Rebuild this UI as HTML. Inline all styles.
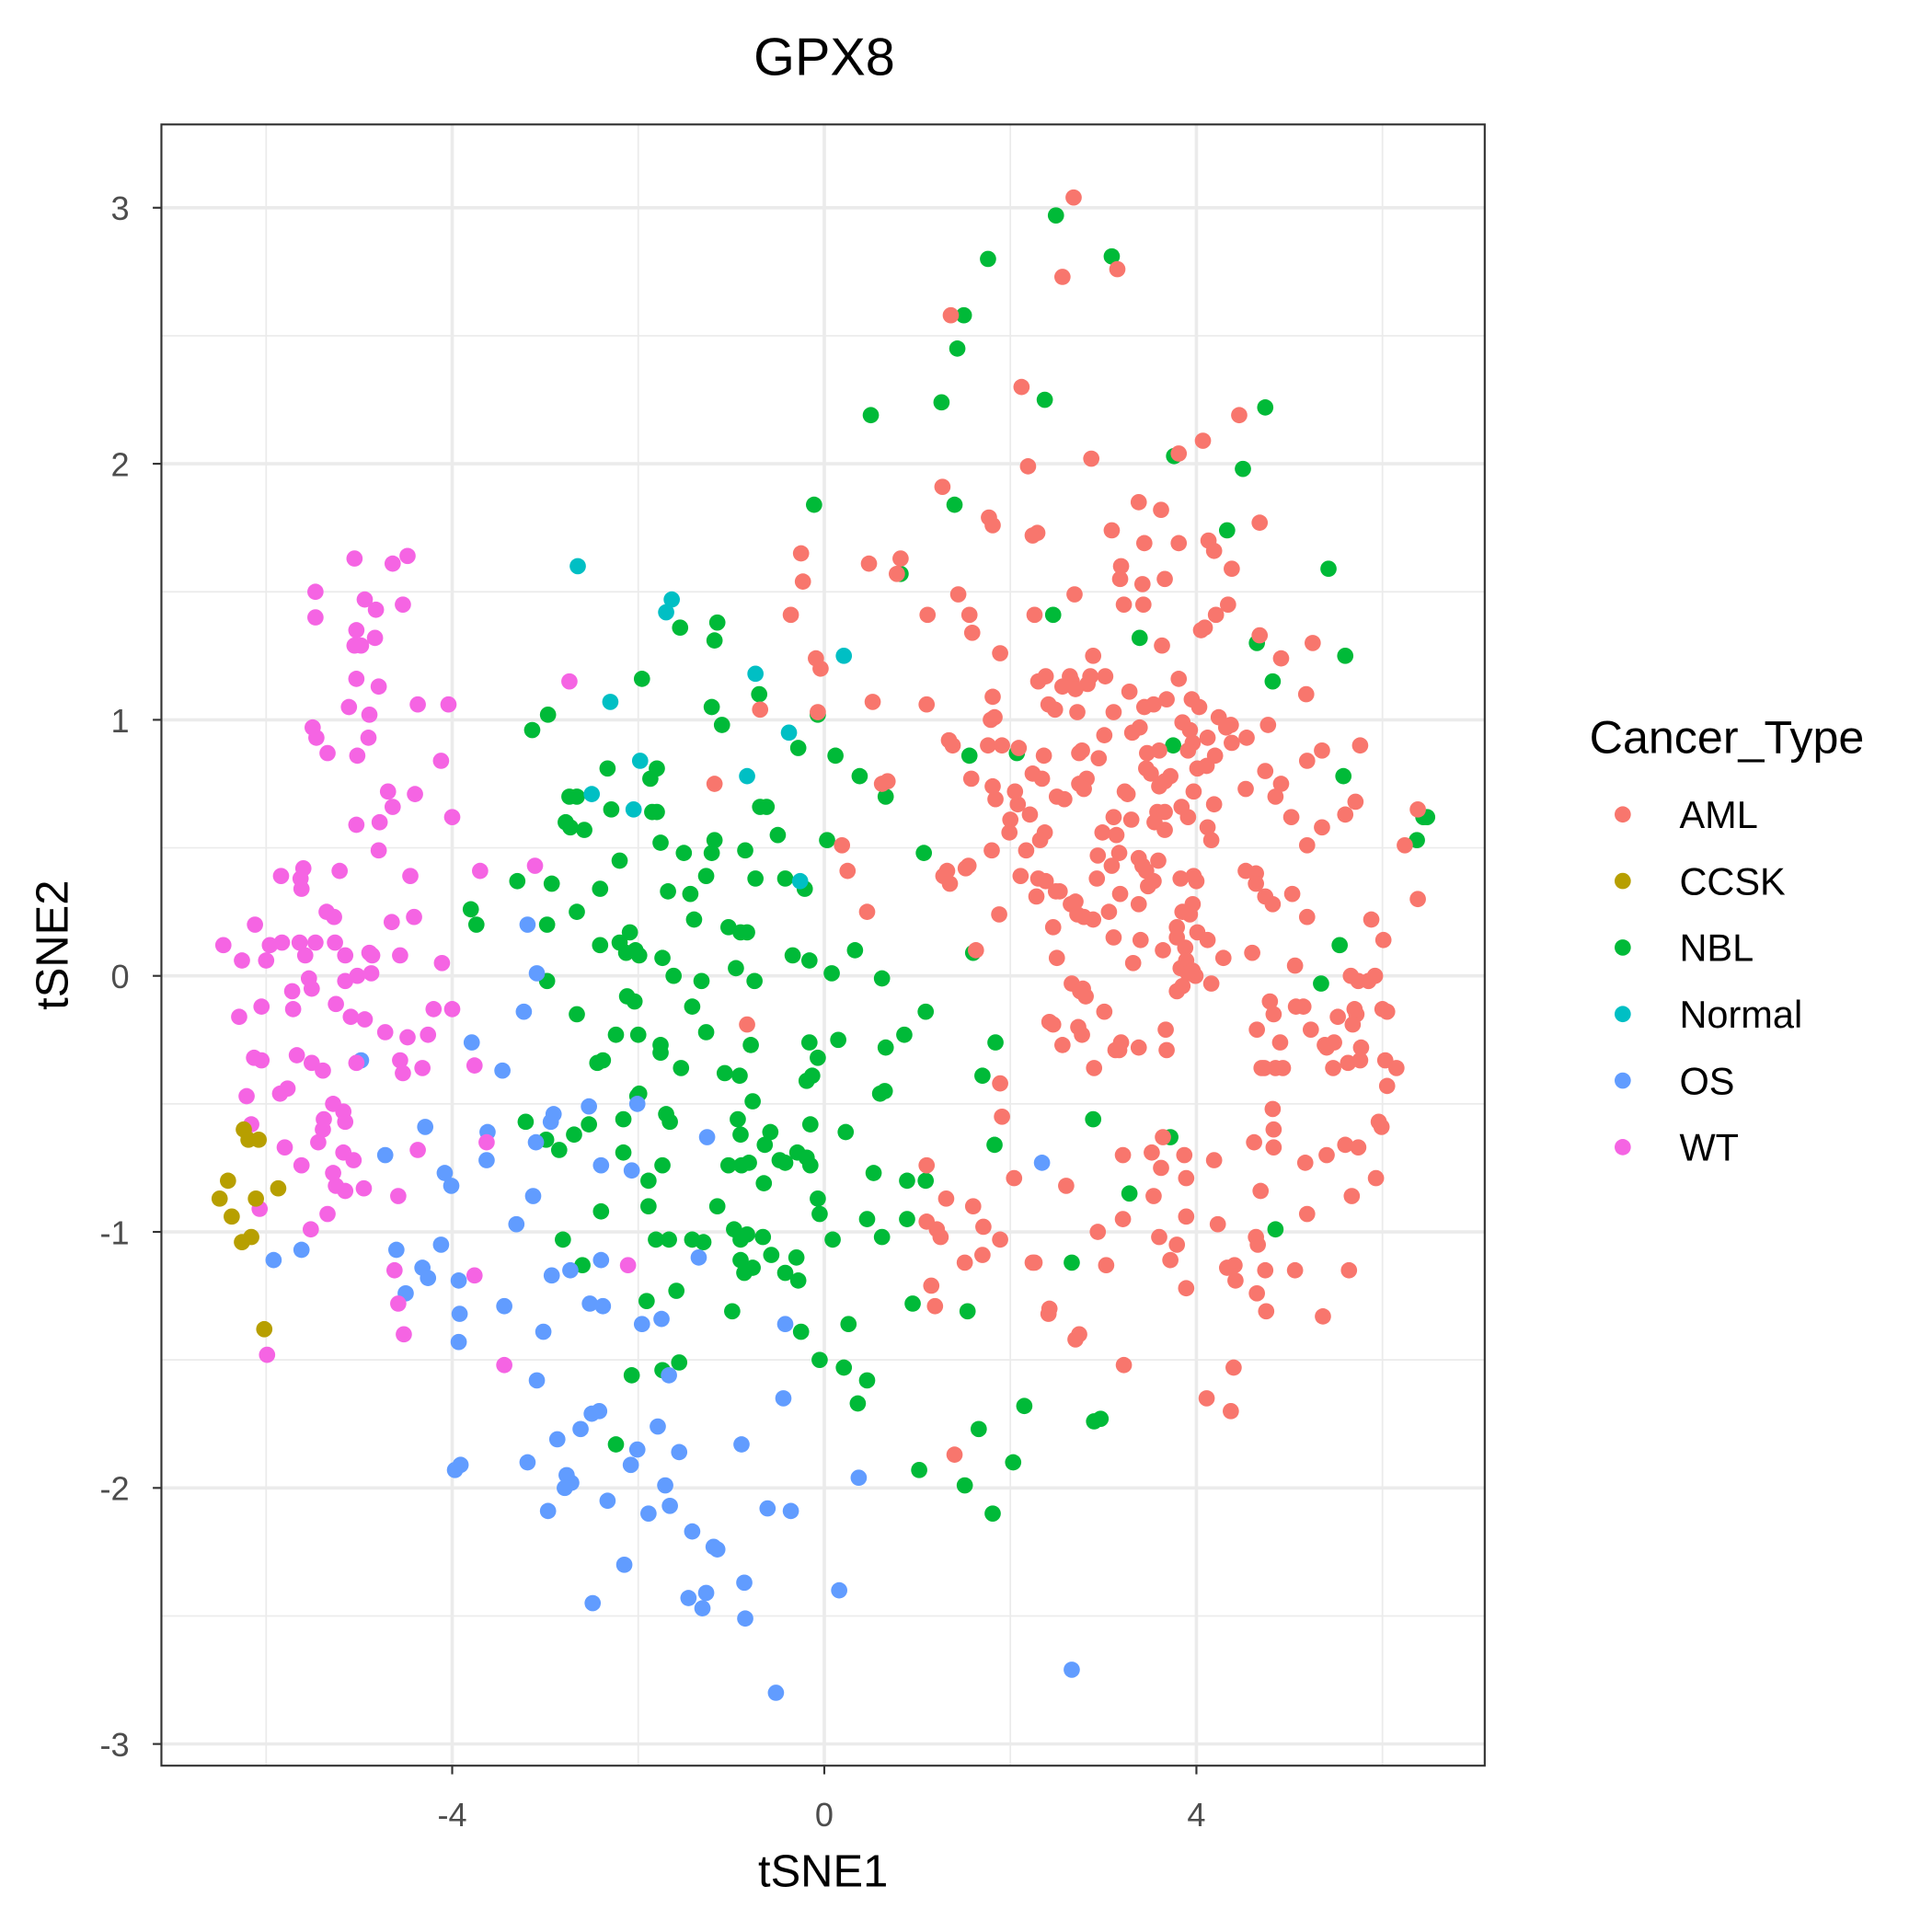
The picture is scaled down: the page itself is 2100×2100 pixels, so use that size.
<!DOCTYPE html>
<html><head><meta charset="utf-8"><style>
html,body{margin:0;padding:0;background:#fff}
svg{display:block}
text{font-family:"Liberation Sans",Arial,sans-serif}
</style></head><body>
<svg id="chart" width="2100" height="2100" viewBox="0 0 1568 1568" xmlns="http://www.w3.org/2000/svg">
<rect x="0" y="0" width="1568" height="1568" fill="#fff"/>
<g id="grid"></g>
<g id="points"></g>
<rect x="131" y="101" width="1074" height="1332" fill="none" stroke="#333" stroke-width="1.6"/>
<g id="axes"></g>
<text x="669" y="61" font-size="43" text-anchor="middle" fill="#000">GPX8</text>
<text x="668" y="1531" font-size="36.5" text-anchor="middle" fill="#000">tSNE1</text>
<text transform="translate(55,767) rotate(-90)" font-size="36.5" text-anchor="middle" fill="#000">tSNE2</text>
<g id="legend">
<text x="1290" y="611" font-size="37.5" fill="#000">Cancer_Type</text>
</g>
</svg>
<script>
const categories = ["AML","CCSK","NBL","Normal","OS","WT"];
const colors = ["#F8766D","#B79F00","#00BA38","#00BFC4","#619CFF","#F564E3"];
const xTicks = [-4,0,4];
const yTicks = [-3,-2,-1,0,1,2,3];
const xMinor = [-6,-2,2,6];
const yMinor = [-2.5,-1.5,-0.5,0.5,1.5,2.5];

const wtX = [-5.05,-4.48,-4.64,-5.47,-4.94,-4.53,-4.82,-5.47,-5.03,-4.83,-5.05,-4.98,-5.03,-4.79,-4.37,-4.04,-2.74,-5.11,-4.89,-5.50,-5.46,-4.90,-5.34,-4.12,-5.02,-4.69,-4.40,-4.64,-4.00,-5.03,-4.78,-4.79,-5.60,-5.84,-5.63,-5.21,-4.45,-3.70,-3.11,-5.62,-5.35,-5.27,-6.12,-4.65,-4.41,-6.46,-5.83,-5.96,-5.64,-5.47,-5.26,-5.15,-6.26,-6.00,-5.58,-4.89,-4.56,-4.86,-4.11,-5.54,-5.02,-5.15,-4.87,-5.51,-5.72,-5.25,-6.05,-5.71,-5.09,-6.29,-4.94,-4.72,-4.00,-4.20,-4.48,-4.26,-6.13,-6.05,-5.67,-5.51,-5.39,-4.56,-5.03,-3.76,-4.53,-4.32,-5.77,-5.85,-6.21,-5.28,-5.17,-5.15,-5.38,-5.39,-6.16,-5.44,-5.80,-5.17,-5.06,-4.37,-5.62,-5.28,-5.25,-5.15,-4.95,-4.58,-6.07,-5.34,-5.52,-3.76,-4.62,-2.11,-4.58,-4.52,-3.44,-5.99,-3.63];
const wtY = [1.63,1.64,1.61,1.50,1.47,1.45,1.43,1.40,1.35,1.32,1.29,1.29,1.16,1.13,1.06,1.06,1.15,1.05,1.02,0.97,0.93,0.93,0.87,0.84,0.86,0.72,0.71,0.66,0.62,0.59,0.60,0.49,0.42,0.39,0.38,0.41,0.39,0.41,0.43,0.34,0.25,0.23,0.20,0.21,0.23,0.12,0.13,0.12,0.13,0.13,0.13,0.08,0.06,0.06,0.08,0.09,0.08,0.08,0.05,-0.01,0.00,-0.02,0.01,-0.05,-0.06,-0.11,-0.12,-0.13,-0.16,-0.16,-0.17,-0.22,-0.13,-0.13,-0.24,-0.23,-0.32,-0.33,-0.31,-0.34,-0.37,-0.33,-0.34,-0.35,-0.38,-0.36,-0.44,-0.46,-0.47,-0.50,-0.53,-0.57,-0.56,-0.60,-0.58,-0.65,-0.67,-0.69,-0.72,-0.68,-0.74,-0.77,-0.82,-0.84,-0.83,-0.86,-0.91,-0.93,-0.99,-1.17,-1.15,-1.13,-1.28,-1.40,-1.52,-1.48,-0.65];

const ccskX = [-6.24,-6.19,-6.08,-6.41,-6.50,-6.11,-6.37,-5.87,-6.16,-6.26,-6.02];
const ccskY = [-0.60,-0.64,-0.64,-0.80,-0.87,-0.87,-0.94,-0.83,-1.02,-1.04,-1.38];

const normalX = [-2.65,-1.64,-1.70,-0.74,0.21,-2.30,-0.38,-1.98,-0.83,-2.50,-2.05,-0.26];
const normalY = [1.60,1.47,1.42,1.18,1.25,1.07,0.95,0.84,0.78,0.71,0.65,0.37];

const osX = [-3.19,-3.09,-3.23,-3.79,-3.46,-4.98,-4.29,-3.62,-2.91,-2.53,-2.94,-1.26,-3.10,-4.72,-4.08,-4.01,-3.63,-2.40,-2.07,-5.92,-5.62,-4.60,-4.12,-4.32,-4.26,-3.93,-4.50,-3.13,-3.31,-3.92,-3.44,-2.93,-2.73,-2.40,-2.52,-2.38,-1.96,-1.75,-1.35,-3.93,-3.02,-3.09,-2.01,-0.42,-1.67,-2.42,-2.50,-2.62,-2.87,-1.79,-2.01,-1.56,-0.89,-0.44,0.37,-3.19,-2.77,-2.72,-2.79,-3.91,-3.97,-2.97,-2.33,-2.08,-1.71,-1.66,-1.89,-1.42,-1.19,-1.15,-2.15,-2.49,-1.46,-1.27,-1.31,-0.86,-0.85,-0.61,-0.36,0.16,-0.52,2.66,2.34];
const osY = [0.20,0.01,-0.14,-0.26,-0.37,-0.33,-0.59,-0.61,-0.54,-0.51,-0.57,-0.63,-0.65,-0.70,-0.77,-0.82,-0.72,-0.74,-0.76,-1.11,-1.07,-1.07,-1.05,-1.14,-1.18,-1.19,-1.24,-0.86,-0.97,-1.32,-1.29,-1.17,-1.15,-1.11,-1.28,-1.29,-1.36,-1.34,-1.10,-1.43,-1.39,-1.58,-0.50,-1.36,-1.56,-1.70,-1.71,-1.77,-1.81,-1.76,-1.85,-1.86,-1.83,-1.65,-1.96,-1.90,-1.95,-1.98,-2.00,-1.91,-1.93,-2.09,-2.05,-1.91,-1.99,-2.07,-2.10,-2.17,-2.23,-2.24,-2.30,-2.45,-2.43,-2.41,-2.47,-2.37,-2.51,-2.08,-2.09,-2.40,-2.80,-2.71,-0.73];

const nblX = [2.49,1.76,3.09,1.50,1.43,1.26,2.37,0.50,4.74,3.76,4.50,1.40,-0.11,0.82,4.33,2.46,5.42,3.39,5.60,4.65,4.82,-1.55,-1.15,-1.18,-1.96,-0.70,-1.21,-1.10,-2.97,-3.14,-0.07,-0.28,0.12,1.56,2.07,0.38,0.66,3.75,-2.33,-1.80,-1.87,-2.74,-2.58,-2.66,-1.85,-1.80,-2.29,-2.78,-2.73,-1.18,-1.21,-0.85,-0.74,-0.50,-0.69,-0.62,0.03,1.07,-1.76,-1.51,-2.20,-3.30,-2.93,-2.41,-1.68,-1.44,-1.27,-0.42,-0.21,-2.66,-3.80,-3.74,-2.98,-1.40,-1.03,-0.83,-0.90,-0.34,-2.09,-2.20,-2.41,-2.03,-2.13,-1.99,-1.74,-0.95,-0.16,0.33,0.08,0.62,-1.62,-1.32,-2.98,-0.75,-2.12,-2.04,-2.66,-2.24,-1.76,-2.00,-1.42,-1.27,-1.76,-0.16,-0.07,0.15,1.09,0.86,0.66,1.84,1.70,-0.19,-0.13,-0.79,-0.91,-1.07,-0.77,-1.54,-2.44,-2.38,-1.99,-2.01,-1.70,-1.66,-2.16,-0.93,-0.90,-0.58,-0.64,-0.15,0.23,-0.42,-0.29,-0.48,-0.19,-0.15,-0.89,-1.03,-0.81,-0.65,-3.21,-2.99,-2.53,-2.85,-2.16,-1.74,-1.89,0.60,0.65,0.53,0.89,1.09,2.89,3.28,3.72,4.85,5.34,5.54,6.44,6.37,5.58,1.83,-0.07,-1.89,-1.15,-2.40,-1.81,-1.67,-1.42,-1.30,-2.81,-0.97,-0.90,-0.83,-0.66,-0.57,-0.30,-0.90,-0.77,-0.86,-1.59,-1.91,-0.99,-0.28,-0.42,-0.05,0.09,0.46,0.62,0.89,0.95,1.54,-0.25,0.26,-0.05,0.21,0.46,0.36,-2.07,-1.74,-1.56,-2.24,1.66,2.15,2.03,1.02,1.51,1.81,2.90,2.97,2.66,-2.60,-2.69,1.60,6.48];
const nblY = [2.97,2.80,2.81,2.58,2.45,2.24,2.25,2.19,2.22,2.03,1.98,1.84,1.84,1.57,1.74,1.41,1.59,1.32,1.25,1.30,1.15,1.36,1.38,1.31,1.16,1.10,1.05,0.98,1.02,0.96,1.02,0.89,0.86,0.86,0.87,0.78,0.70,0.90,0.81,0.81,0.77,0.70,0.57,0.70,0.64,0.64,0.65,0.60,0.58,0.53,0.48,0.49,0.38,0.55,0.66,0.66,0.53,0.48,0.52,0.48,0.45,0.37,0.36,0.34,0.33,0.32,0.39,0.38,0.34,0.25,0.26,0.20,0.20,0.22,0.19,0.17,0.17,0.08,0.17,0.13,0.12,0.10,0.09,0.08,0.07,0.03,0.06,0.10,0.01,-0.01,0.00,-0.02,-0.02,-0.02,-0.08,-0.10,-0.15,-0.23,-0.27,-0.23,-0.12,-0.22,-0.30,-0.26,-0.32,-0.25,-0.14,-0.23,-0.28,-0.26,-0.39,-0.41,-0.39,-0.27,-0.39,-0.38,-0.49,-0.36,-0.34,-0.33,-0.46,-0.47,-0.54,-0.57,-0.56,-0.56,-0.62,-0.61,-0.66,-0.58,-0.61,-0.73,-0.69,-0.72,-0.71,-0.74,-0.74,-0.74,-0.73,-0.81,-0.57,-0.64,-0.58,-0.68,-0.69,-0.74,-0.80,-0.46,-0.45,-0.77,-0.80,-0.80,-0.56,-0.85,-0.63,-0.99,-0.03,0.12,0.62,0.53,0.78,-0.66,-0.87,-0.90,-0.90,-0.92,-1.03,-1.03,-1.03,-1.04,-1.03,-0.99,-1.03,-1.01,-1.02,-1.09,-1.10,-1.11,-1.14,-1.16,-1.23,-1.27,-1.31,-1.19,-1.16,-0.93,-1.03,-0.95,-1.02,-0.95,-1.28,-1.31,-1.39,-1.36,-1.50,-1.53,-1.58,-1.67,-1.56,-1.54,-1.51,-1.83,-1.77,-1.68,-1.90,-1.93,-1.99,-2.10,-1.74,-1.73,-1.12,-1.13,-0.62,0.09,0.62];

const amlX = [2.68,2.56,3.15,1.36,2.12,4.46,2.19,4.07,2.87,3.81,3.38,3.62,4.68,-0.25,-0.23,-0.36,0.48,0.82,0.78,1.11,1.44,1.56,1.59,1.77,1.81,1.27,2.29,2.24,3.09,3.44,3.81,4.13,4.19,4.38,3.19,3.18,3.42,3.66,3.22,3.43,2.69,4.21,4.34,4.05,4.09,4.91,5.25,5.18,4.68,3.63,1.89,2.26,-0.09,-0.04,2.89,2.38,2.30,2.64,2.86,3.02,2.66,2.83,2.56,2.70,2.41,2.48,2.72,3.11,3.54,3.81,3.95,4.03,3.68,3.28,0.52,1.10,-0.07,-0.69,-1.18,0.68,0.62,1.81,1.79,1.76,1.91,2.09,1.34,1.38,3.44,3.85,4.24,4.32,4.37,4.12,4.20,4.54,4.77,4.38,3.93,3.96,3.01,3.39,3.31,3.60,3.47,3.91,3.51,3.66,2.77,2.74,2.36,2.34,2.74,2.82,2.58,2.79,2.95,3.46,3.72,4.01,3.60,4.11,4.74,4.91,4.85,5.76,5.35,5.19,5.71,5.60,5.02,5.19,5.35,6.24,6.38,6.38,5.88,6.01,5.85,5.92,5.74,5.66,6.00,6.05,6.03,6.15,6.05,5.99,5.93,5.63,5.47,5.23,5.40,5.38,5.72,5.68,5.52,5.15,5.06,5.19,5.03,5.07,5.48,5.77,5.70,4.82,4.74,4.64,4.53,4.64,4.60,4.79,4.83,4.90,4.85,4.93,4.73,4.65,4.70,4.82,4.83,4.83,4.62,4.69,4.64,4.66,4.74,4.65,4.75,5.19,5.17,5.06,5.40,5.60,5.74,5.64,5.67,5.36,3.89,4.40,4.11,4.37,4.41,4.33,4.19,3.89,3.89,3.60,3.54,3.64,3.62,3.67,3.38,3.68,3.19,3.17,3.01,2.73,2.56,2.42,2.90,2.77,2.78,2.81,2.50,2.65,2.70,2.72,2.53,2.93,3.09,2.89,3.18,3.38,3.14,3.30,3.55,3.58,3.66,3.91,3.42,3.59,3.83,3.38,3.46,3.54,3.97,3.96,3.85,4.00,3.93,4.01,4.12,4.29,3.79,3.88,3.89,3.83,3.91,3.79,3.85,3.64,3.40,3.11,3.32,4.16,3.99,3.96,3.79,3.48,3.66,3.84,3.97,4.12,4.16,4.19,4.53,3.17,2.99,2.94,2.37,2.17,2.32,2.21,2.00,1.99,1.80,1.55,2.38,2.49,2.11,1.35,1.32,1.52,1.28,2.08,2.05,2.24,1.84,1.81,2.50,3.23,3.11,3.26,1.58,1.83,0.19,0.25,0.46,2.46,2.79,3.06,2.28,2.30,1.88,1.63,2.66,2.75,2.46,3.13,3.21,2.60,2.94,3.21,3.22,3.03,2.74,2.70,2.41,2.42,2.24,1.89,1.71,1.60,1.31,1.21,1.25,1.10,1.15,1.19,1.70,1.51,2.04,1.89,2.26,1.40,3.72,3.79,3.87,3.52,4.23,-0.83,5.96,5.76,4.42,1.10,1.91];
const amlY = [3.04,2.73,2.76,2.58,2.30,2.19,1.99,2.09,2.02,2.04,1.85,1.82,1.77,1.65,1.54,1.41,1.61,1.63,1.57,1.41,1.49,1.41,1.34,1.79,1.76,1.91,1.73,1.72,1.74,1.69,1.69,1.70,1.66,1.59,1.60,1.55,1.53,1.55,1.45,1.45,1.49,1.41,1.45,1.35,1.36,1.24,1.30,1.10,1.33,1.29,1.26,1.41,1.24,1.20,1.25,1.17,1.15,1.17,1.17,1.17,1.15,1.14,1.13,1.12,1.06,1.04,1.03,1.03,1.06,1.16,1.08,1.05,1.08,1.11,1.07,1.06,1.03,1.04,0.75,0.76,0.75,1.09,1.00,0.90,0.90,0.89,0.92,0.90,1.05,0.99,1.01,0.97,0.98,0.93,0.86,0.93,0.98,0.91,0.96,0.91,0.94,0.97,0.95,0.88,0.87,0.88,0.79,0.76,0.88,0.87,0.86,0.77,0.75,0.77,0.69,0.73,0.85,0.81,0.78,0.81,0.74,0.82,0.80,0.75,0.70,0.90,0.88,0.84,0.68,0.63,0.62,0.51,0.58,0.51,0.65,0.30,0.22,0.14,-0.02,0.00,-0.02,0.00,-0.13,-0.14,-0.33,-0.36,-0.43,-0.59,-0.79,-0.34,-0.36,-0.21,-0.28,-0.27,-0.15,-0.19,-0.16,-0.12,0.04,0.23,0.32,-0.12,-0.26,-0.28,-0.13,0.28,0.31,0.40,0.41,0.36,0.09,-0.10,-0.15,-0.26,-0.36,-0.36,-0.36,-0.21,-0.36,-0.52,-0.60,-0.67,-0.65,-0.84,-1.02,-1.05,-1.15,-1.24,-1.31,-0.93,-0.73,-1.15,-0.70,-0.66,-0.67,-1.15,-0.86,-1.33,-1.22,-1.53,-1.65,-1.70,-1.13,-1.14,-0.72,-0.79,-0.94,-1.02,-0.86,-0.63,-0.75,-0.21,-0.28,-0.29,-0.26,-0.29,-0.14,-0.20,-0.27,-0.18,-0.36,-0.23,-0.05,-0.08,0.07,0.28,0.29,0.24,0.33,0.38,0.43,0.22,0.32,0.28,0.55,0.61,0.60,0.64,0.64,0.62,0.43,0.45,0.38,0.46,0.41,0.37,0.39,0.28,0.25,0.37,0.24,0.17,0.14,0.07,0.15,0.11,0.06,0.03,0.01,-0.06,-0.04,0.10,0.14,0.15,0.05,-0.03,0.00,0.02,0.19,0.35,0.57,0.66,0.72,0.58,0.53,0.67,0.73,0.48,0.56,0.47,0.56,0.49,0.53,0.63,0.61,0.56,0.49,0.43,0.37,0.33,0.39,0.36,0.41,0.42,0.39,0.67,0.72,0.79,0.69,0.74,0.70,0.72,0.62,0.71,0.77,1.01,0.51,0.41,0.25,0.19,0.23,0.25,0.31,0.38,0.24,0.10,-0.03,-0.06,-0.19,-0.29,-0.70,-0.82,-1.00,-0.95,-1.52,-1.13,-1.40,-1.42,-1.32,-1.30,-1.12,-1.03,-0.98,-0.90,-0.87,-0.99,-1.02,-0.96,-1.21,-1.29,-1.09,-1.12,-0.79,-0.42,-1.12,-1.87,-1.11,-1.05,-0.70,-0.69,-0.97,-0.19,-0.57,-0.33,-1.19,-0.74,-0.55];

const NS = "http://www.w3.org/2000/svg";
const X0 = 669, XS = 75.5, Y0 = 792, YS = 207.8;
function sx(v){ return X0 + v*XS; }
function sy(v){ return Y0 - v*YS; }
function mk(tag, attrs, parent){
  const e = document.createElementNS(NS, tag);
  for (const k in attrs) e.setAttribute(k, attrs[k]);
  parent.appendChild(e);
  return e;
}
const grid = document.getElementById('grid');
const axes = document.getElementById('axes');
const pts = document.getElementById('points');
const legend = document.getElementById('legend');
mk('rect',{x:131,y:101,width:1074,height:1332,fill:'#fff'},grid);
xMinor.forEach(v=>{
  const l = mk('line',{x1:sx(v),x2:sx(v),y1:101,y2:1433,stroke:'#ebebeb','stroke-width':1.3},grid);
  
  
});
yMinor.forEach(v=>{
  const l = mk('line',{x1:131,x2:1205,y1:sy(v),y2:sy(v),stroke:'#ebebeb','stroke-width':1.3},grid);
  
  
});
xTicks.forEach(v=>{
  const l = mk('line',{x1:sx(v),x2:sx(v),y1:101,y2:1433,stroke:'#ebebeb','stroke-width':2.7},grid);
  
  
  const t = mk('line',{x1:sx(v),x2:sx(v),y1:1433,y2:1440,stroke:'#333','stroke-width':1.6},axes);
  
  
  const tx = mk('text',{x:sx(v),y:1482,'font-size':27,'text-anchor':'middle',fill:'#4d4d4d'},axes);
  tx.textContent = String(v);
  
  
});
yTicks.forEach(v=>{
  const l = mk('line',{x1:131,x2:1205,y1:sy(v),y2:sy(v),stroke:'#ebebeb','stroke-width':2.7},grid);
  
  
  const t = mk('line',{x1:124,x2:131,y1:sy(v),y2:sy(v),stroke:'#333','stroke-width':1.6},axes);
  
  
  const tx = mk('text',{x:105,y:sy(v)+10,'font-size':27,'text-anchor':'end',fill:'#4d4d4d'},axes);
  tx.textContent = String(v);
  
  
});
const series = [[nblX,nblY,2],[normalX,normalY,3],[osX,osY,4],[wtX,wtY,5],[ccskX,ccskY,1],[amlX,amlY,0]];
series.forEach(([xs,ys,ci])=>{
  const n = Math.min(xs.length, ys.length);
  for (let i=0;i<n;i++){
    const c = mk('circle',{cx:sx(xs[i]),cy:sy(ys[i]),r:6.6,fill:colors[ci]},pts);
    
    
  }
});
categories.forEach((cat,i)=>{
  const y = 661 + i*54;
  const c = mk('circle',{cx:1317,cy:y,r:6.6,fill:colors[i]},legend);
  
  
  const t = mk('text',{x:1363,y:y+11,'font-size':31,fill:'#000'},legend);
  t.textContent = cat;
  
  
});
</script>
</body></html>
